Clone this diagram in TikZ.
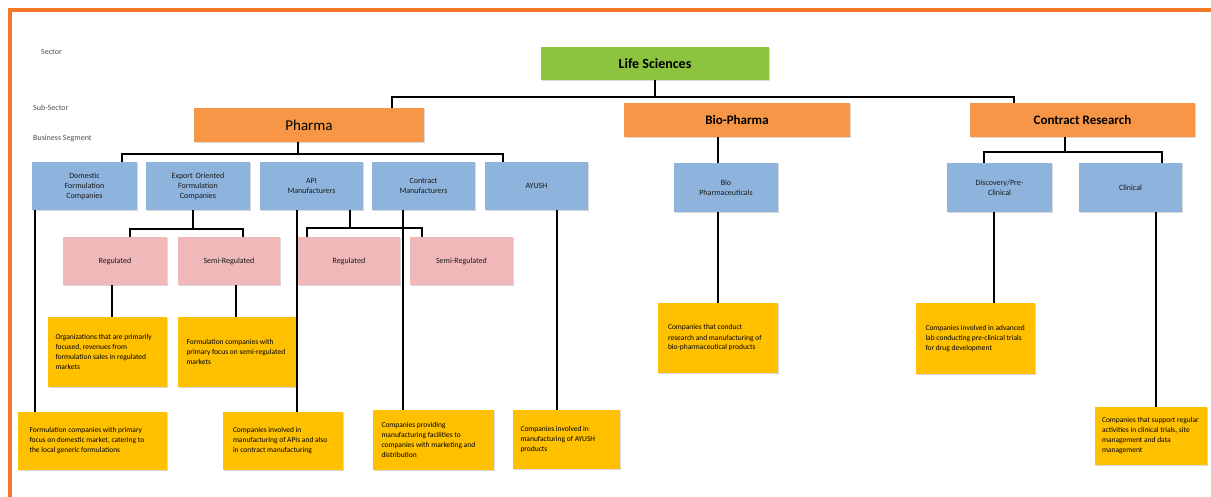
\documentclass[tikz,border=0pt]{standalone}
\usepackage{fontspec}
\setmainfont{Carlito}
\usetikzlibrary{shadows}
\definecolor{lsgreen}{RGB}{140,196,64}
\definecolor{sorange}{RGB}{247,150,70}
\definecolor{sblue}{RGB}{142,180,222}
\definecolor{spink}{RGB}{240,184,184}
\definecolor{syellow}{RGB}{255,192,0}
\definecolor{frameorange}{RGB}{245,120,40}
\definecolor{labelgray}{RGB}{80,80,80}
\begin{document}
\begin{tikzpicture}[x=1pt,y=-1pt,
  base/.style={draw=none, inner sep=3pt, align=center,
    drop shadow={shadow xshift=1pt,shadow yshift=-1.2pt,opacity=0.3}},
  greenbox/.style={base, fill=lsgreen, font=\bfseries\fontsize{14}{16}\selectfont},
  orangebox/.style={base, fill=sorange, font=\bfseries\fontsize{13}{15}\selectfont},
  bluebox/.style={base, fill=sblue, minimum width=104pt, minimum height=48pt, text width=96pt, font=\fontsize{8}{10}\selectfont, text=black!90},
  pinkbox/.style={base, fill=spink, minimum width=103pt, minimum height=48pt, font=\fontsize{8}{10}\selectfont, text=black!90},
  yellowbox/.style={base, fill=syellow, align=flush left, font=\fontsize{7.5}{10}\selectfont, text=black},
  lbl/.style={anchor=west, font=\fontsize{8}{9.5}\selectfont, text=labelgray, inner sep=1pt},
  conn/.style={draw=black, line width=1.3pt}
]
\useasboundingbox (0,0) rectangle (1211,497);
\fill[white] (0,0) rectangle (1211,497);
\draw[frameorange, line width=3.5pt] (10,497) -- (10,10) -- (1211,10);

% level labels
\node[lbl] (lsec) at (40,52) {Sector};
\node[lbl] (lsub) at (32,108) {Sub-Sector};
\node[lbl] (lbus) at (32,138) {Business Segment};

% sector and sub-sectors
\node[greenbox, minimum width=228pt, minimum height=33pt] (ls) at (655,63.5) {Life Sciences};
\node[orangebox, minimum width=230pt, minimum height=34pt, font=\fontsize{15}{17}\selectfont] (pharma) at (309,125) {Pharma};
\node[orangebox, minimum width=226pt, minimum height=34pt] (bio) at (737,120) {Bio-Pharma};
\node[orangebox, minimum width=225pt, minimum height=34pt] (cr) at (1082.5,120) {Contract Research};

% business segments
\node[bluebox, minimum width=105pt] (dom) at (84.5,186) {Domestic\\Formulation\\Companies};
\node[bluebox] (exp) at (198,186) {Export Oriented\\Formulation\\Companies};
\node[bluebox, minimum width=103pt] (api) at (311.5,186) {API\\Manufacturers};
\node[bluebox, minimum width=103pt] (cm) at (423.5,186) {Contract\\Manufacturers};
\node[bluebox, minimum width=103pt] (ayush) at (536.5,186) {AYUSH};
\node[bluebox, minimum height=49pt] (biop) at (726,187.5) {Bio\\Pharmaceuticals};
\node[bluebox, minimum width=105pt, minimum height=49pt] (pre) at (999.5,187.5) {Discovery/Pre-\\Clinical};
\node[bluebox, minimum width=103pt, minimum height=49pt] (clin) at (1130.5,187.5) {Clinical};

% markets
\node[pinkbox, minimum width=104pt] (reg1) at (115,261) {Regulated};
\node[pinkbox, minimum width=102pt] (semi1) at (229,261) {Semi-Regulated};
\node[pinkbox, minimum width=102pt] (reg2) at (349,261) {Regulated};
\node[pinkbox, minimum width=103pt] (semi2) at (461.5,261) {Semi-Regulated};

% descriptions
\node[yellowbox, minimum width=119pt, minimum height=70pt, text width=104pt] (yreg1) at (107.5,352) {Organizations that are primarily focused, revenues from formulation sales in regulated markets};
\node[yellowbox, minimum width=119pt, minimum height=70pt, text width=102pt] (ysemi1) at (237.5,352) {Formulation companies with primary focus on semi-regulated markets};
\node[yellowbox, minimum width=149pt, minimum height=58pt, text width=126pt] (ydom) at (92.5,441) {Formulation companies with primary focus on domestic market, catering to the local generic formulations};
\node[yellowbox, minimum width=120pt, minimum height=58pt, text width=100pt] (yapi) at (283,441) {Companies involved in manufacturing of APIs and also in contract manufacturing};
\node[yellowbox, minimum width=121pt, minimum height=60pt, text width=104pt] (ycm) at (433.5,440) {Companies providing manufacturing facilities to companies with marketing and distribution};
\node[yellowbox, minimum width=107pt, minimum height=59pt, text width=92pt] (yayush) at (566.5,439.5) {Companies involved in manufacturing of AYUSH products\\[9pt]};
\node[yellowbox, minimum width=120pt, minimum height=70pt, text width=100pt] (ybio) at (718,338) {Companies that conduct research and manufacturing of bio-pharmaceutical products\\[6pt]};
\node[yellowbox, minimum width=119pt, minimum height=71pt, text width=100pt] (ypre) at (975.5,338.5) {Companies involved in advanced lab conducting pre-clinical trials for drug development\\[6pt]};
\node[yellowbox, minimum width=112pt, minimum height=58pt, text width=98pt] (yclin) at (1151,436) {Companies that support regular activities in clinical trials, site management and data management};

% connector coordinates
\coordinate (b1) at (392,97);
\coordinate (b2) at (1014,97);
\coordinate (pj) at (298,154);
\coordinate (p1) at (122,154);
\coordinate (p2) at (503,154);
\coordinate (cj) at (1065,152);
\coordinate (c1) at (984,152);
\coordinate (c2) at (1162,152);
\coordinate (ej) at (193,229);
\coordinate (e1) at (130,229);
\coordinate (e2) at (243,229);
\coordinate (aj) at (350,228);
\coordinate (a1) at (307,228);
\coordinate (a2) at (422,228);
\coordinate (xdom) at (35,0);
\coordinate (xreg1) at (112,0);
\coordinate (xsemi1) at (236,0);
\coordinate (xapi) at (297,0);
\coordinate (xcm) at (403,0);
\coordinate (xay) at (557,0);
\coordinate (xbio) at (718,0);
\coordinate (xpre) at (994,0);
\coordinate (xclin) at (1156,0);

% sector to sub-sectors
\draw[conn] (ls.south) -- (ls.south |- b1);
\draw[conn] (pharma.north -| b1) -- (b1) -- (b2) -- (cr.north -| b2);
% pharma to segments
\draw[conn] (pharma.south -| pj) -- (pj);
\draw[conn] (dom.north -| p1) -- (p1) -- (p2) -- (ayush.north -| p2);
% bio-pharma
\draw[conn] (bio.south -| xbio) -- (biop.north -| xbio);
% contract research
\draw[conn] (cr.south -| cj) -- (cj);
\draw[conn] (pre.north -| c1) -- (c1) -- (c2) -- (clin.north -| c2);
% export oriented to markets
\draw[conn] (exp.south -| ej) -- (ej);
\draw[conn] (reg1.north -| e1) -- (e1) -- (e2) -- (semi1.north -| e2);
% API to markets
\draw[conn] (api.south -| aj) -- (aj);
\draw[conn] (reg2.north -| a1) -- (a1) -- (a2) -- (semi2.north -| a2);
% to descriptions
\draw[conn] (dom.south -| xdom) -- (ydom.north -| xdom);
\draw[conn] (reg1.south -| xreg1) -- (yreg1.north -| xreg1);
\draw[conn] (semi1.south -| xsemi1) -- (ysemi1.north -| xsemi1);
\draw[conn] (api.south -| xapi) -- (yapi.north -| xapi);
\draw[conn] (cm.south -| xcm) -- (ycm.north -| xcm);
\draw[conn] (ayush.south -| xay) -- (yayush.north -| xay);
\draw[conn] (biop.south -| xbio) -- (ybio.north -| xbio);
\draw[conn] (pre.south -| xpre) -- (ypre.north -| xpre);
\draw[conn] (clin.south -| xclin) -- (yclin.north -| xclin);
\end{tikzpicture}
\end{document}
